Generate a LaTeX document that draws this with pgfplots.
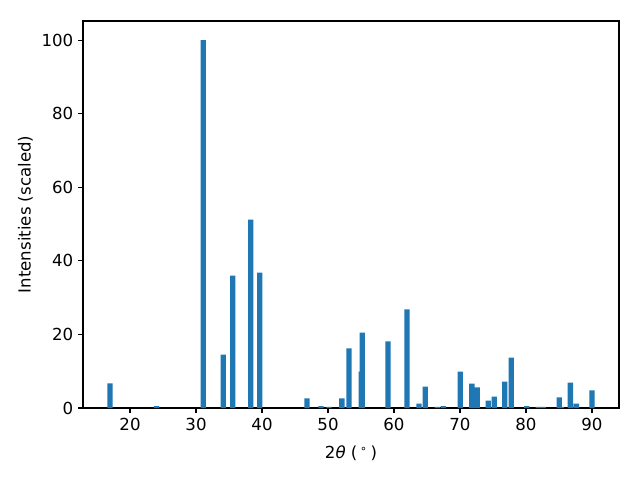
\documentclass[border=0pt]{standalone}
\usepackage{fontspec}
\setmainfont{DejaVu Sans}
\usepackage{pgfplots}
\pgfplotsset{compat=1.18}
\definecolor{mplblue}{HTML}{1F77B4}
\begin{document}
\begin{tikzpicture}
\begin{axis}[
  scale only axis,
  width=5.36in, height=3.87in,
  xmin=12.87, xmax=94.1,
  ymin=0, ymax=105.2,
  xtick={20,30,...,90},
  ytick={0,20,...,100},
  tick align=outside,
  major tick length=3.5pt,
  xtick pos=lower, ytick pos=left,
  tick style={black, line width=0.8pt},
  axis line style={line width=0.8pt},
  /pgf/number format/assume math mode=true,
  ticklabel style={font=\fontsize{12}{14}\selectfont},
  label style={font=\fontsize{12}{14}\selectfont},
  xlabel={2\textit{θ} (\,\textsuperscript{∘}\,)},
  ylabel={Intensities (scaled)},
  xlabel style={yshift=-4.5pt},
  ylabel style={yshift=-0.5pt},
]
\addplot[ybar, bar width=0.8, bar shift=0pt, fill=mplblue, draw=none] coordinates {
(16.96,6.7)
(24.0,0.5)
(31.08,100)
(34.12,14.5)
(35.56,36.0)
(38.3,51.2)
(39.66,36.8)
(46.8,2.6)
(48.93,0.5)
(50.14,0.3)
(52.1,2.6)
(53.18,16.2)
(55.05,9.9)
(55.2,20.5)
(59.1,18.1)
(61.98,26.8)
(63.8,1.2)
(64.72,5.8)
(66.54,0.3)
(67.45,0.5)
(70.03,9.9)
(71.8,6.6)
(72.6,5.6)
(74.28,2.0)
(75.19,3.1)
(76.79,7.2)
(77.77,13.7)
(80.13,0.5)
(81.87,0.3)
(82.63,0.3)
(85.06,2.9)
(85.4,0.3)
(86.73,6.9)
(87.64,1.2)
(90.0,4.8)
};
\end{axis}
\pgfresetboundingbox
\path[use as bounding box] (current axis.south west) ++(-0.83in,-0.72in) rectangle ++(6.4in,4.8in);
\end{tikzpicture}
\end{document}
